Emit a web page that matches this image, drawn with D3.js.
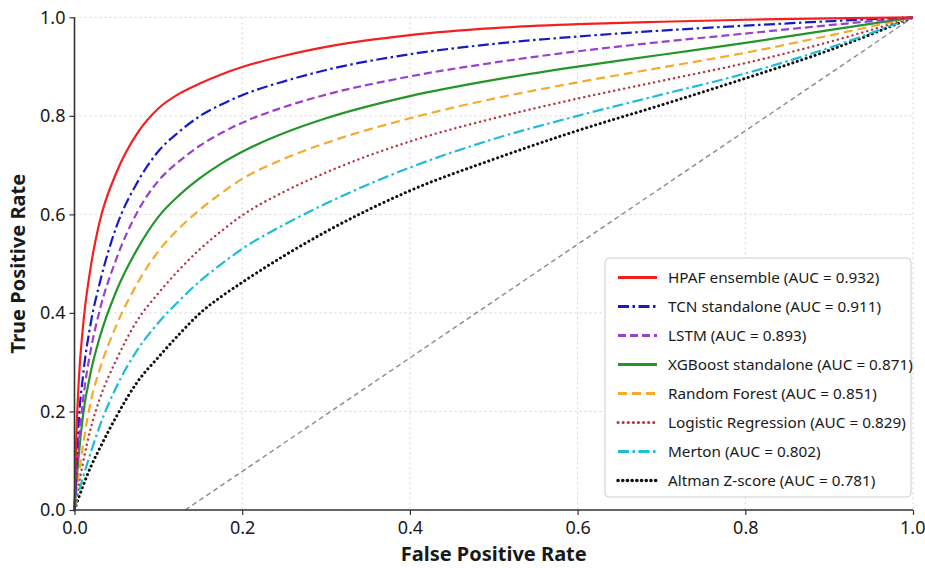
<!DOCTYPE html>
<html>
<head>
<meta charset="utf-8">
<script src="https://cdn.jsdelivr.net/npm/d3@7/dist/d3.min.js"></script>
<style>
  html, body { margin: 0; padding: 0; background: #fff; }
  svg { display: block; font-family: "Noto Sans", "Open Sans", sans-serif; }
</style>
</head>
<body>
<svg id="chart" width="925" height="568"></svg>
<script>
// ---- data ----
const fprGrid = [0, 0.002, 0.005, 0.01, 0.02, 0.03, 0.05, 0.075, 0.1, 0.125, 0.15, 0.175, 0.2, 0.25, 0.3, 0.4, 0.5, 0.6, 0.7, 0.8, 0.9, 1.0];

const seriesNames = [
  "HPAF ensemble (AUC = 0.932)",
  "TCN standalone (AUC = 0.911)",
  "LSTM (AUC = 0.893)",
  "XGBoost standalone (AUC = 0.871)",
  "Random Forest (AUC = 0.851)",
  "Logistic Regression (AUC = 0.829)",
  "Merton (AUC = 0.802)",
  "Altman Z-score (AUC = 0.781)"
];

const hpafTPR   = [0, 0.14, 0.26, 0.37, 0.50, 0.585, 0.685, 0.765, 0.815, 0.845, 0.866, 0.884, 0.899, 0.922, 0.940, 0.964, 0.978, 0.986, 0.991, 0.995, 0.998, 1];
const tcnTPR    = [0, 0.08, 0.18, 0.27, 0.385, 0.46, 0.575, 0.665, 0.728, 0.768, 0.800, 0.823, 0.842, 0.870, 0.893, 0.925, 0.946, 0.961, 0.973, 0.983, 0.992, 1];
const lstmTPR   = [0, 0.06, 0.13, 0.22, 0.33, 0.405, 0.51, 0.605, 0.668, 0.708, 0.740, 0.765, 0.786, 0.818, 0.843, 0.880, 0.908, 0.931, 0.950, 0.967, 0.984, 1];
const xgbTPR    = [0, 0.05, 0.11, 0.19, 0.285, 0.35, 0.445, 0.53, 0.595, 0.639, 0.674, 0.703, 0.727, 0.765, 0.795, 0.840, 0.873, 0.900, 0.924, 0.948, 0.974, 1];
const rfTPR     = [0, 0.03, 0.07, 0.13, 0.225, 0.285, 0.375, 0.46, 0.525, 0.572, 0.610, 0.643, 0.672, 0.713, 0.745, 0.795, 0.835, 0.868, 0.898, 0.928, 0.963, 1];
const logitTPR  = [0, 0.02, 0.05, 0.095, 0.17, 0.225, 0.305, 0.385, 0.44, 0.488, 0.530, 0.566, 0.598, 0.646, 0.685, 0.748, 0.795, 0.835, 0.871, 0.907, 0.950, 1];
const mertonTPR = [0, 0.014, 0.035, 0.065, 0.12, 0.17, 0.25, 0.325, 0.38, 0.425, 0.465, 0.499, 0.530, 0.579, 0.622, 0.695, 0.753, 0.800, 0.843, 0.886, 0.938, 1];
const altmanTPR = [0, 0.01, 0.025, 0.048, 0.09, 0.125, 0.19, 0.26, 0.31, 0.357, 0.400, 0.433, 0.462, 0.516, 0.565, 0.648, 0.712, 0.770, 0.822, 0.876, 0.933, 1];

const chanceFPR = [0.132, 1.0];
const chanceTPR = [0.0, 1.0];

const tickValues = [0, 0.2, 0.4, 0.6, 0.8, 1.0];
const tickLabels = ["0.0", "0.2", "0.4", "0.6", "0.8", "1.0"];

const xLabel = "False Positive Rate";
const yLabel = "True Positive Rate";

// ---- styles ----
const styles = [
  { color: "#f51f1f", dash: null,             width: 2.2, cap: "butt" },
  { color: "#1a1ac4", dash: "11,3.5,2.5,3.5", width: 2.2, cap: "butt" },
  { color: "#9a3fd0", dash: "8,4",            width: 2.2, cap: "butt" },
  { color: "#23962a", dash: null,             width: 2.2, cap: "butt" },
  { color: "#f6a92a", dash: "9,5",            width: 2.2, cap: "butt" },
  { color: "#b8363f", dash: "0.1,5",          width: 2.4, cap: "round" },
  { color: "#1ebcd8", dash: "11,3.5,2.5,3.5", width: 2.2, cap: "butt" },
  { color: "#111111", dash: "0.1,4.6",        width: 3.0, cap: "round" }
];
const tprSeries = [hpafTPR, tcnTPR, lstmTPR, xgbTPR, rfTPR, logitTPR, mertonTPR, altmanTPR];

// ---- layout ----
const svg = d3.select("#chart");
const margin = { left: 74.5, top: 17.3, right: 925 - 913, bottom: 568 - 510 };
const W = 925 - margin.left - margin.right;
const H = 568 - margin.top - margin.bottom;

const x = d3.scaleLinear().domain([0, 1]).range([0, W]);
const y = d3.scaleLinear().domain([0, 1]).range([H, 0]);

const g = svg.append("g").attr("transform", `translate(${margin.left},${margin.top})`);

// grid
g.append("g").selectAll("line").data(tickValues).join("line")
  .attr("x1", d => x(d)).attr("x2", d => x(d)).attr("y1", 0).attr("y2", H)
  .attr("stroke", "#d4d4d4").attr("stroke-width", 1).attr("stroke-dasharray", "2,3");
g.append("g").selectAll("line").data(tickValues).join("line")
  .attr("y1", d => y(d)).attr("y2", d => y(d)).attr("x1", 0).attr("x2", W)
  .attr("stroke", "#d4d4d4").attr("stroke-width", 1).attr("stroke-dasharray", "2,3");

// chance line
const chanceData = chanceFPR.map((f, i) => [f, chanceTPR[i]]);
g.append("path").datum(chanceData)
  .attr("d", d3.line().x(d => x(d[0])).y(d => y(d[1])))
  .attr("fill", "none").attr("stroke", "#8a8a8a").attr("stroke-width", 1.4)
  .attr("stroke-dasharray", "5,3.5");

// curves (draw weakest first so HPAF is on top)
const line = d3.line().x(d => x(d[0])).y(d => y(d[1])).curve(d3.curveMonotoneX);
for (let i = tprSeries.length - 1; i >= 0; i--) {
  const data = fprGrid.map((f, j) => [f, tprSeries[i][j]]);
  const s = styles[i];
  g.append("path").datum(data)
    .attr("d", line)
    .attr("fill", "none")
    .attr("stroke", s.color)
    .attr("stroke-width", s.width)
    .attr("stroke-dasharray", s.dash)
    .attr("stroke-linecap", s.cap);
}

// axes
const xAxis = d3.axisBottom(x).tickValues(tickValues).tickFormat((d, i) => tickLabels[i]).tickSize(5).tickPadding(6);
const yAxis = d3.axisLeft(y).tickValues(tickValues).tickFormat((d, i) => tickLabels[i]).tickSize(5).tickPadding(4);

const gx = g.append("g").attr("transform", `translate(0,${H})`).call(xAxis);
const gy = g.append("g").call(yAxis);
[gx, gy].forEach(a => {
  a.select(".domain").attr("stroke", "#333").attr("stroke-width", 1.6);
  a.selectAll(".tick line").attr("stroke", "#333").attr("stroke-width", 1.2);
  a.selectAll(".tick text").attr("fill", "#1a1a1a").style("font-size", "18px").style("font-family", "'Noto Sans', sans-serif");
});
gx.select(".domain").attr("d", `M0,0H${W}`);
gy.select(".domain").attr("d", `M0,${H}V0`);
// keep the last x tick label inside the canvas
gx.selectAll(".tick text").filter(d => d === 1).attr("text-anchor", "end").attr("dx", "12");

// axis labels
svg.append("text")
  .attr("x", margin.left + W / 2).attr("y", 561)
  .attr("text-anchor", "middle")
  .style("font-size", "20px").style("font-weight", "bold").attr("fill", "#1a1a1a")
  .text(xLabel);
svg.append("text")
  .attr("transform", `translate(25,${margin.top + H / 2}) rotate(-90)`)
  .attr("text-anchor", "middle")
  .style("font-size", "20px").style("font-weight", "bold").attr("fill", "#1a1a1a")
  .text(yLabel);

// legend
const legX = 605 - margin.left, legY = 258 - margin.top, legW = 306, legH = 239;
const leg = g.append("g").attr("transform", `translate(${legX},${legY})`);
leg.append("rect").attr("width", legW).attr("height", legH).attr("rx", 4)
  .attr("fill", "#fff").attr("fill-opacity", 0.95).attr("stroke", "#cfcfcf").attr("stroke-width", 1);
seriesNames.forEach((name, i) => {
  const ry = 19.5 + i * 29;
  const s = styles[i];
  leg.append("line").attr("x1", 13).attr("x2", 52).attr("y1", ry).attr("y2", ry)
    .attr("stroke", s.color).attr("stroke-width", s.width + 0.6)
    .attr("stroke-dasharray", s.dash)
    .attr("stroke-linecap", s.cap);
  leg.append("text").attr("x", 63).attr("y", ry).attr("dy", "0.35em")
    .style("font-size", "15.3px").attr("fill", "#1a1a1a").text(name);
});
</script>
</body>
</html>
